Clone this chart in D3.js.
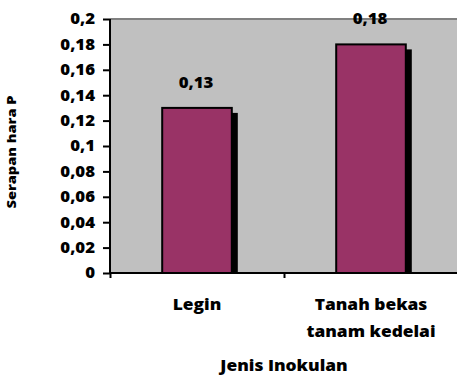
<!DOCTYPE html>
<html>
<head>
<meta charset="utf-8">
<script src="https://cdn.jsdelivr.net/npm/d3@7"></script>
<style>
  html, body { margin: 0; padding: 0; background: #fff; }
  svg { display: block; }
  text { font-family: "Open Sans", sans-serif; font-weight: 800; fill: #000; }
</style>
</head>
<body>
<svg id="chart" width="457" height="376"></svg>
<script>
// Phosphorus uptake by inoculant type
const categories = ["Legin", "Tanah bekas tanam kedelai"];
const categoryLines = [["Legin"], ["Tanah bekas", "tanam kedelai"]];
const values = [0.13, 0.18];
const valueLabels = ["0,13", "0,18"];
const yTicks = [0, 0.02, 0.04, 0.06, 0.08, 0.1, 0.12, 0.14, 0.16, 0.18, 0.2];
const yTickLabels = ["0", "0,02", "0,04", "0,06", "0,08", "0,1", "0,12", "0,14", "0,16", "0,18", "0,2"];
const yTitle = "Serapan hara P";
const xTitle = "Jenis Inokulan";

const svg = d3.select("#chart");
const plot = { left: 110, right: 458, top: 19, bottom: 273 };
const stretch = 1.12; // widened lettering

const x = d3.scaleBand().domain(categories).range([plot.left, plot.right]).padding(0);
const xEdges = d3.scaleLinear().domain([0, categories.length]).range([plot.left, plot.right]);
const y = d3.scaleLinear().domain([0, 0.2]).range([plot.bottom, plot.top]);

// plot background
svg.append("rect")
  .attr("x", plot.left).attr("y", plot.top)
  .attr("width", plot.right - plot.left).attr("height", plot.bottom - plot.top)
  .attr("fill", "#c0c0c0");
svg.append("line")
  .attr("x1", plot.left).attr("x2", plot.right)
  .attr("y1", plot.top).attr("y2", plot.top)
  .attr("stroke", "#808080").attr("stroke-width", 2);

const barW = x.bandwidth() * 0.4;
const barX = d => x(d) + (x.bandwidth() - barW) / 2;
const data = categories.map((c, i) => ({ c, v: values[i], label: valueLabels[i], lines: categoryLines[i] }));

// drop shadows
svg.append("g").selectAll("rect").data(data).join("rect")
  .attr("x", d => barX(d.c) + 6)
  .attr("y", d => y(d.v) + 5)
  .attr("width", barW)
  .attr("height", d => plot.bottom - y(d.v) - 5)
  .attr("fill", "#000");

// bars
svg.append("g").selectAll("rect").data(data).join("rect")
  .attr("x", d => barX(d.c))
  .attr("y", d => y(d.v))
  .attr("width", barW)
  .attr("height", d => plot.bottom - y(d.v))
  .attr("fill", "#993366")
  .attr("stroke", "#000")
  .attr("stroke-width", 2);

function stretchedText(g, tx, ty, str, size, anchor) {
  return g.append("text")
    .attr("transform", `translate(${tx},${ty}) scale(${stretch},1)`)
    .attr("text-anchor", anchor || "middle")
    .attr("font-size", size)
    .text(str);
}

// value labels
const lg = svg.append("g");
data.forEach(d => stretchedText(lg, x(d.c) + x.bandwidth() / 2 - 1, y(d.v) - 20, d.label, 15));

// y axis
const yAxis = svg.append("g")
  .attr("transform", `translate(${plot.left},0)`)
  .call(d3.axisLeft(y).tickValues(yTicks).tickFormat((d, i) => yTickLabels[i]).tickSize(7).tickPadding(8));
yAxis.select(".domain").attr("stroke", "#000").attr("stroke-width", 2)
  .attr("d", `M0,${plot.top}V${plot.bottom + 1}`);
yAxis.selectAll(".tick line").attr("stroke", "#000").attr("stroke-width", 2);
yAxis.selectAll(".tick text")
  .attr("font-family", null).attr("font-size", 15)
  .each(function() {
    const t = d3.select(this);
    const tx = +t.attr("x");
    t.attr("x", 0).attr("transform", `translate(${tx},0) scale(${stretch},1)`);
  });

// x axis
const xAxis = svg.append("g")
  .attr("transform", `translate(0,${plot.bottom})`)
  .call(d3.axisBottom(xEdges).ticks(categories.length).tickSize(5).tickFormat(""));
xAxis.select(".domain").attr("stroke", "#000").attr("stroke-width", 2)
  .attr("d", `M${plot.left - 1},0H${plot.right}`);
xAxis.selectAll(".tick line").attr("stroke", "#000").attr("stroke-width", 2);

// category labels
const cg = svg.append("g");
data.forEach(d => {
  d.lines.forEach((ln, j) => stretchedText(cg, x(d.c) + x.bandwidth() / 2, 310 + j * 27, ln, 15.5));
});

// axis titles
stretchedText(svg, (plot.left + plot.right) / 2, 371, xTitle, 15.5);
svg.append("text")
  .attr("transform", `translate(16,152) rotate(-90) scale(${stretch},1)`)
  .attr("text-anchor", "middle")
  .attr("font-size", 13)
  .text(yTitle);
</script>
</body>
</html>
